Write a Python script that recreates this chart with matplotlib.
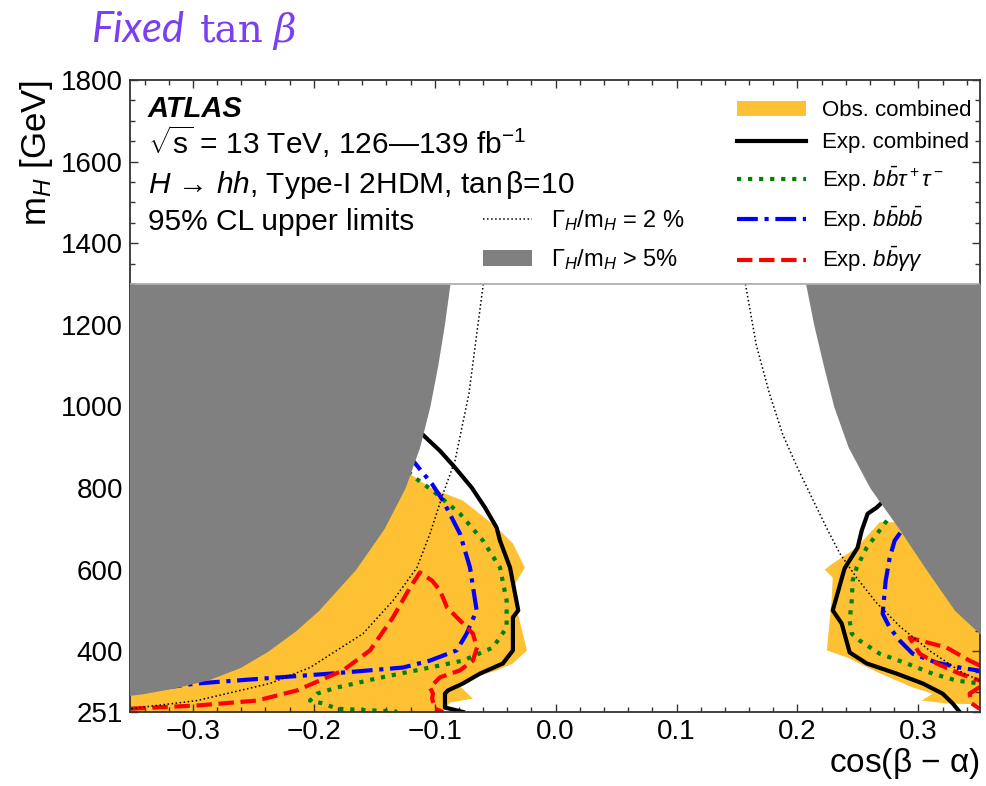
import matplotlib
matplotlib.use("Agg")
import matplotlib.pyplot as plt
from matplotlib.ticker import MultipleLocator, FixedLocator
from matplotlib.patches import Patch
from matplotlib.lines import Line2D

plt.rcParams["font.family"] = ["Liberation Sans", "DejaVu Sans"]
plt.rcParams["mathtext.fontset"] = "custom"
plt.rcParams["mathtext.rm"] = "Liberation Sans"
plt.rcParams["mathtext.it"] = "Liberation Sans:italic"
plt.rcParams["mathtext.bf"] = "Liberation Sans:bold"

# width constraint Gamma_H/m_H > 5% (grey), left and right boundaries
gray_left_mh = [1300, 1200, 1100, 1000, 900, 800, 700, 600, 500, 450, 400, 360, 330, 310, 296, 285]
gray_left_cos = [-0.0874, -0.0920, -0.0975, -0.1040, -0.1125, -0.1245, -0.1420, -0.1655,
                 -0.1960, -0.2150, -0.2380, -0.2609, -0.2870, -0.3150, -0.3410, -0.3700]
gray_right_mh = [1300, 1200, 1100, 1000, 900, 800, 700, 600, 500, 443, 400]
gray_right_cos = [0.2068, 0.2135, 0.2215, 0.2300, 0.2420, 0.2600, 0.2840, 0.3065, 0.3300,
                  0.3507, 0.3700]

# Gamma_H/m_H = 2 % contour
w2_left_mh = [1300, 1031, 867, 786, 688, 605, 524, 443, 360, 321, 279, 262, 251]
w2_left_cos = [-0.0598, -0.0717, -0.0832, -0.0931, -0.1039, -0.1147, -0.1345, -0.1593,
               -0.2031, -0.2362, -0.2965, -0.3436, -0.37]
w2_right_mh = [1300, 1150, 1030, 930, 850, 770, 700, 640, 580, 520, 460, 400, 350, 328]
w2_right_cos = [0.157, 0.166, 0.177, 0.188, 0.200, 0.213, 0.2245, 0.235, 0.249, 0.265, 0.285,
                0.310, 0.335, 0.3507]

# observed combined exclusion
obs_left_mh = [245, 838, 838, 801, 769, 703, 664, 605, 556, 492, 402, 370, 353, 333, 321, 284, 274, 251, 245]
obs_left_cos = [-0.37, -0.37, -0.122, -0.1039, -0.0766, -0.0485, -0.0353, -0.0254, -0.0353,
                -0.0312, -0.0237, -0.0353, -0.0485, -0.0708, -0.0816, -0.0684, -0.0874, -0.0931, -0.0931]
obs_right_mh = [716, 654, 615, 600, 580, 531, 475, 402, 385, 346, 311, 296, 279, 272, 268, 716]
obs_right_cos = [0.268, 0.249, 0.2292, 0.2226, 0.2292, 0.2284, 0.2267, 0.2243, 0.2407, 0.268,
                 0.2953, 0.3118, 0.3027, 0.3233, 0.37, 0.37]

# expected combined
exp_left_mh = [945, 933, 891, 850, 801, 752, 703, 671, 605, 500, 483, 402, 370, 345, 321, 304, 296, 262, 251]
exp_left_cos = [-0.116, -0.1107, -0.0956, -0.0832, -0.0694, -0.0584, -0.0488, -0.046, -0.0377,
                -0.0309, -0.0353, -0.0353, -0.0436, -0.0626, -0.0766, -0.089, -0.0915, -0.0915, -0.0766]
exp_right_mh = [770, 752, 737, 696, 654, 603, 500, 468, 397, 370, 345, 321, 296, 272, 251]
exp_right_cos = [0.272, 0.2655, 0.2581, 0.2532, 0.2498, 0.239, 0.2292, 0.2366, 0.2432, 0.2573,
                 0.2821, 0.3036, 0.3201, 0.3284, 0.3342]

# expected bbtautau
tau_left_mh = [840, 825, 793, 737, 671, 605, 524, 458, 409, 377, 360, 335, 311, 296, 279, 272, 259, 252]
tau_left_cos = [-0.122, -0.1163, -0.1014, -0.0791, -0.0601, -0.046, -0.0405, -0.0405, -0.0518,
                -0.0766, -0.1039, -0.1452, -0.1808, -0.1973, -0.2031, -0.1924, -0.1808, -0.131]
tau_right_mh = [720, 696, 654, 605, 573, 524, 475, 443, 426, 394, 370, 345, 328, 321]
tau_right_cos = [0.274, 0.268, 0.2573, 0.249, 0.2457, 0.2449, 0.2432, 0.2449, 0.2515, 0.268,
                 0.2904, 0.3118, 0.3317, 0.3507]

# expected bbbb
bbbb_left_mh = [880, 867, 811, 769, 688, 605, 500, 443, 402, 377, 360, 345, 333, 321, 309, 305]
bbbb_left_cos = [-0.124, -0.118, -0.1025, -0.0931, -0.0791, -0.0708, -0.0653, -0.0736, -0.0818,
                 -0.1039, -0.1262, -0.1865, -0.2419, -0.2964, -0.3286, -0.345]
bbbb_right_mh = [690, 671, 629, 573, 492, 458, 426, 394, 372, 360, 352]
bbbb_right_cos = [0.285, 0.2804, 0.2763, 0.273, 0.2705, 0.2763, 0.2846, 0.2953, 0.3151, 0.3342, 0.3507]

# expected bbyy
yy_left_mh = [257, 259, 267, 279, 304, 353, 402, 483, 556, 593, 573, 549, 507, 468, 443, 409,
              377, 353, 336, 311, 296, 284, 259, 251]
yy_left_cos = [-0.37, -0.3518, -0.2964, -0.2469, -0.2138, -0.1758, -0.1535, -0.1345, -0.1204,
               -0.1122, -0.1022, -0.0956, -0.0898, -0.0766, -0.0684, -0.065, -0.0684, -0.0791,
               -0.0956, -0.1039, -0.1014, -0.1022, -0.0997, -0.0931]
yy_right_mh = [365, 377, 409, 433, 394, 370, 345, 328]
yy_right_cos = [0.3507, 0.3424, 0.3233, 0.2928, 0.3011, 0.3151, 0.3342, 0.3507]
yy_corner_mh = [312, 296, 272, 259]
yy_corner_cos = [0.3507, 0.3424, 0.3441, 0.3507]

orange = "#fdc133"
grey = "#808080"
lw = 3.0

fig = plt.figure(figsize=(9.86, 7.86), dpi=100)
ax = fig.add_axes([130 / 986, 1 - 712 / 786, 850 / 986, 632 / 786])

ax.fill(obs_left_cos, obs_left_mh, color=orange, lw=0, zorder=1)
ax.fill(obs_right_cos, obs_right_mh, color=orange, lw=0, zorder=1)

ax.plot(exp_left_cos, exp_left_mh, color="black", lw=lw, zorder=2)
ax.plot(exp_right_cos, exp_right_mh, color="black", lw=lw, zorder=2)
ax.plot(tau_left_cos, tau_left_mh, color="green", lw=lw, ls=":", zorder=2)
ax.plot(tau_right_cos, tau_right_mh, color="green", lw=lw, ls=":", zorder=2)
ax.plot(bbbb_left_cos, bbbb_left_mh, color="blue", lw=lw, dashes=(5, 1.6, 1, 1.6), zorder=2)
ax.plot(bbbb_right_cos, bbbb_right_mh, color="blue", lw=lw, dashes=(5, 1.6, 1, 1.6), zorder=2)
ax.plot(yy_left_cos, yy_left_mh, color="red", lw=lw, ls="--", zorder=2)
ax.plot(yy_right_cos, yy_right_mh, color="red", lw=lw, ls="--", zorder=2)
ax.plot(yy_corner_cos, yy_corner_mh, color="red", lw=lw, ls="--", zorder=2)

ax.fill_betweenx(gray_left_mh, -0.5, gray_left_cos, color=grey, lw=0, zorder=3)
ax.fill_betweenx(gray_right_mh, gray_right_cos, 0.5, color=grey, lw=0, zorder=3)

ax.plot(w2_left_cos, w2_left_mh, color="black", lw=1.1, ls=":", zorder=4)
ax.plot(w2_right_cos, w2_right_mh, color="black", lw=1.1, ls=":", zorder=4)

ax.axhline(1300, color="#a8a8a8", lw=1.2, zorder=4)

ax.set_xlim(-0.352, 0.351)
ax.set_ylim(251, 1800)
ax.yaxis.set_major_locator(FixedLocator([251, 400, 600, 800, 1000, 1200, 1400, 1600, 1800]))
ax.yaxis.set_minor_locator(MultipleLocator(50))
ax.xaxis.set_major_locator(MultipleLocator(0.1))
ax.xaxis.set_minor_locator(MultipleLocator(0.02))
ax.tick_params(which="both", direction="in", top=True, right=True, labelsize=20, width=1.0,
               color="#333333")
ax.tick_params(which="major", length=6, pad=5)
ax.tick_params(which="minor", length=3.5)
for s in ax.spines.values():
    s.set_linewidth(1.3)
    s.set_color("#333333")

ax.set_xlabel(r"cos($\mathrm{\beta}$ $-$ $\mathrm{\alpha}$)", fontsize=24, loc="right", labelpad=1)
ax.set_ylabel(r"m$_H$ [GeV]", fontsize=25, loc="top", labelpad=4)

# experiment labels
tx = 0.021
ax.text(tx, 0.9415, "ATLAS", transform=ax.transAxes, fontsize=21, fontweight="bold",
        style="italic", va="baseline")
ax.text(tx, 0.883, r"$\sqrt{\mathrm{s}}$ = 13 TeV, 126—139 fb$^{-1}$", transform=ax.transAxes,
        fontsize=21.5, va="baseline")
ax.text(tx, 0.821, r"$H$ → $hh$, Type-I 2HDM, tan$\,\mathrm{\beta}$=10", transform=ax.transAxes,
        fontsize=21.5, va="baseline")
ax.text(tx, 0.7627, "95% CL upper limits", transform=ax.transAxes, fontsize=21.5, va="baseline")

handles_r = [
    Patch(facecolor=orange, edgecolor="none"),
    Line2D([], [], color="black", lw=lw),
    Line2D([], [], color="green", lw=lw, ls=":"),
    Line2D([], [], color="blue", lw=lw, dashes=(5, 1.6, 1, 1.6)),
    Line2D([], [], color="red", lw=lw, ls="--"),
]
labels_r = ["Obs. combined", "Exp. combined", r"Exp. $b\bar{b}\tau^+\tau^-$",
            r"Exp. $b\bar{b}b\bar{b}$", r"Exp. $b\bar{b}\gamma\gamma$"]
leg_r = ax.legend(handles_r, labels_r, loc="upper left", bbox_to_anchor=(0.714, 0.968),
                  frameon=False, fontsize=16, handlelength=3.1, handletextpad=0.75,
                  labelspacing=0.5, borderpad=0, borderaxespad=0)
ax.add_artist(leg_r)

handles_m = [Line2D([], [], color="black", lw=1.1, ls=":"),
             Patch(facecolor=grey, edgecolor="none")]
labels_m = [r"$\mathrm{\Gamma}_H/\mathrm{m}_H$ = 2 %", r"$\mathrm{\Gamma}_H/\mathrm{m}_H$ > 5%"]
ax.legend(handles_m, labels_m, loc="upper left", bbox_to_anchor=(0.415, 0.797),
          frameon=False, fontsize=17, handlelength=2.1, handletextpad=0.8,
          labelspacing=0.6, borderpad=0, borderaxespad=0)

purple = "#7b3ff2"
fig.text(92 / 986, 1 - 42 / 786, "Fixed", fontsize=30, family="Lato", style="italic",
         color=purple, va="baseline")
fig.text(200 / 986, 1 - 42 / 786, "tan", fontsize=28, family="DejaVu Serif",
         color=purple, va="baseline")
fig.text(273 / 986, 1 - 42 / 786, "β", fontsize=28, family="DejaVu Serif", style="italic",
         color=purple, va="baseline")

fig.savefig("out.png", dpi=100)
